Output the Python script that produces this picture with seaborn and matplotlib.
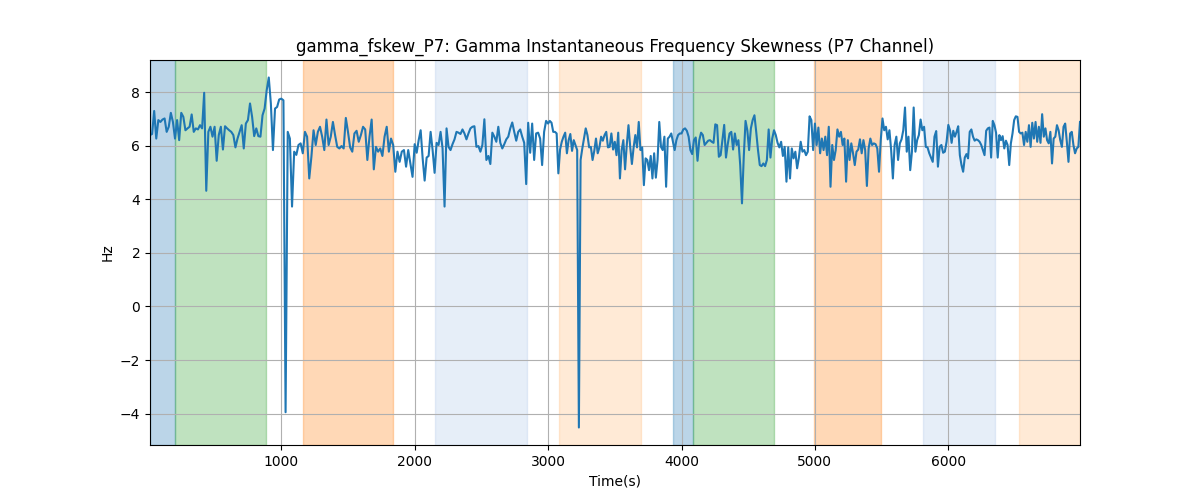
import numpy as np
import pandas as pd
import matplotlib
matplotlib.use("Agg")
import matplotlib.pyplot as plt
import seaborn as sns

# valores, un tramo por cada 1000 s
seg_0 = [6.40, 6.44, 7.30, 6.27, 6.96, 6.89, 6.98, 7.02, 6.52, 6.71,
         7.23, 6.89, 6.27, 6.96, 6.21, 7.23, 7.08, 6.58, 6.65, 6.71,
         7.17, 6.52, 6.65, 6.61, 6.77, 6.65, 7.98, 4.32, 6.52, 6.71,
         6.34, 6.71, 5.44, 6.40, 6.71, 5.86, 6.73, 6.65, 6.58, 6.52,
         6.40, 5.94, 6.27, 6.52, 6.77, 5.90, 6.83, 6.96, 7.58, 7.08,
         6.36, 6.65, 6.36, 6.34, 7.14, 7.39, 8.07, 8.55, 7.58, 5.84,
         7.39, 7.45, 7.73]
seg_1 = [7.76, 7.70, -3.95, 6.52, 6.27, 3.73, 5.78, 5.66, 6.03, 6.09,
         5.72, 6.52, 6.34, 4.78, 5.59, 6.58, 6.03, 6.52, 6.71, 6.34,
         5.84, 6.98, 6.03, 6.34, 6.89, 6.40, 5.96, 5.90, 5.99, 5.90,
         7.04, 6.52, 5.94, 5.78, 6.46, 6.56, 6.15, 6.40, 6.71, 6.61,
         5.47, 6.34, 6.98, 5.12, 5.96, 5.78, 5.90, 5.62, 6.34, 6.71,
         5.78, 6.27, 6.03, 5.03, 5.78, 5.40, 5.78, 5.84, 5.22, 5.84,
         5.34, 4.84]
seg_2 = [6.06, 5.74, 6.21, 6.58, 5.53, 4.70, 5.56, 5.62, 6.52, 5.84,
         4.99, 6.11, 6.03, 6.52, 5.90, 3.73, 6.65, 5.96, 5.84, 6.06,
         6.24, 6.52, 6.49, 6.44, 6.61, 6.46, 6.24, 6.46, 6.65, 6.71,
         6.73, 5.96, 5.99, 5.78, 6.03, 6.99, 5.47, 5.62, 5.32, 6.49,
         6.34, 6.15, 6.71, 6.11, 5.90, 6.06, 6.24, 6.34, 6.65, 6.87,
         6.52, 6.19, 6.52, 6.61, 6.34, 6.11, 4.57, 6.86, 5.74, 6.83,
         5.47, 6.46, 6.49, 6.27, 5.28, 6.52, 6.93]
seg_3 = [6.83, 6.93, 6.86, 6.52, 6.52, 6.46, 4.97, 5.86, 6.15, 6.34,
         6.49, 5.72, 6.21, 6.44, 5.81, 6.21, 6.02, 5.84, -4.52, 5.47,
         5.90, 6.27, 6.65, 6.40, 5.94, 5.96, 5.47, 5.81, 6.27, 5.72,
         5.94, 6.34, 6.19, 6.40, 6.52, 5.94, 5.96, 6.46, 5.86, 6.15,
         5.65, 6.49, 4.78, 5.84, 6.21, 5.12, 6.03, 6.77, 5.96, 5.32,
         5.94, 6.40, 5.94, 6.89, 5.84, 5.94, 4.53, 5.53, 5.47, 5.09,
         5.62, 4.78, 5.72, 4.81, 5.47, 6.89, 5.96, 5.84, 6.34, 4.47,
         6.27, 6.34, 6.46, 6.15, 5.84, 6.21, 6.40, 6.46]
seg_4 = [6.46, 6.61, 6.65, 6.56, 6.34, 5.84, 5.69, 6.21, 6.31, 5.44,
         6.21, 6.49, 6.40, 6.03, 6.11, 6.19, 6.21, 6.15, 6.11, 6.80,
         6.77, 5.59, 5.65, 6.21, 6.78, 5.56, 6.06, 6.46, 6.52, 5.86,
         6.46, 6.03, 6.21, 5.28, 3.85, 5.59, 6.93, 6.58, 5.84, 6.65,
         6.96, 7.14, 6.52, 5.84, 5.28, 5.24, 5.34, 5.24, 5.47, 6.61,
         5.56, 6.27, 6.58, 6.40, 6.11, 5.94, 6.15, 5.62, 5.96, 4.66,
         5.94, 4.78, 5.90, 5.53, 5.78, 5.16, 5.56, 6.15, 5.78, 5.84,
         5.65, 5.78, 7.10, 6.96, 5.84]
seg_5 = [6.83, 6.03, 6.68, 5.72, 6.27, 5.84, 6.34, 5.65, 6.71, 4.47,
         6.03, 5.47, 5.84, 6.61, 6.34, 6.52, 6.03, 6.27, 4.66, 6.21,
         5.47, 6.09, 5.72, 5.28, 5.78, 5.86, 6.24, 5.72, 6.21, 5.84,
         4.50, 5.90, 6.27, 6.03, 6.09, 6.06, 5.90, 5.03, 6.21, 7.02,
         6.58, 6.71, 6.24, 6.58, 5.84, 4.78, 6.03, 6.34, 5.47, 6.09,
         6.24, 6.58, 7.43, 5.78, 6.34, 5.09, 5.78, 7.43, 5.78, 6.21,
         6.40, 6.98, 6.58, 6.71, 5.96, 5.94, 5.72, 5.56, 5.40, 6.34,
         6.55, 5.22, 5.96, 6.03, 5.74, 5.78, 6.15]
seg_6 = [6.78, 6.58, 6.11, 6.56, 6.34, 6.52, 6.73, 5.65, 5.28, 5.03,
         5.56, 5.69, 5.53, 6.52, 6.61, 6.34, 6.19, 6.24, 6.21, 6.15,
         6.03, 5.84, 5.65, 6.56, 6.65, 6.68, 5.56, 6.93, 6.77, 6.49,
         5.56, 6.40, 6.21, 6.36, 5.90, 6.19, 6.03, 5.28, 6.09, 6.46,
         6.96, 7.10, 7.08, 6.52, 6.46, 6.49, 6.03, 6.52, 6.15, 6.77,
         5.96, 6.86, 6.27, 6.89, 6.15, 6.71, 6.11, 7.18, 6.34, 6.65,
         6.21, 6.09, 6.52, 5.34, 6.27, 6.34, 6.77, 6.58, 6.21, 5.96,
         6.71, 6.83, 6.15, 5.40, 6.46, 6.52, 6.03, 5.72, 5.90, 5.96,
         6.89]

segments = [seg_0, seg_1, seg_2, seg_3, seg_4, seg_5, seg_6]
seg_edges = [16, 1000, 2000, 3000, 4000, 5000, 6000, 6987]

# bandas de fondo: (inicio, fin, color)
band_start = [16, 203, 1163, 2152, 3082, 3936, 4088, 4993, 5813, 6530]
band_end = [203, 885, 1835, 2840, 3694, 4088, 4691, 5493, 6348, 6987]
band_color = ["#1f77b4", "#2ca02c", "#ff7f0e", "#aec7e8", "#ffbb78",
              "#1f77b4", "#2ca02c", "#ff7f0e", "#aec7e8", "#ffbb78"]

times = []
for i, seg in enumerate(segments):
    last = i == len(segments) - 1
    times.append(np.linspace(seg_edges[i], seg_edges[i + 1], len(seg), endpoint=last))
df = pd.DataFrame({"time": np.concatenate(times),
                   "value": np.concatenate([np.array(s) for s in segments])})

fig, ax = plt.subplots(figsize=(12, 5), dpi=100)
for s, e, c in zip(band_start, band_end, band_color):
    ax.axvspan(s, e, color=c, alpha=0.3)

sns.lineplot(data=df, x="time", y="value", ax=ax, color="#1f77b4", linewidth=1.5)
ax.set_xlim(df["time"].min(), df["time"].max())
ax.grid(True)
ax.set_title("gamma_fskew_P7: Gamma Instantaneous Frequency Skewness (P7 Channel)")
ax.set_xlabel("Time(s)")
ax.set_ylabel("Hz")

plt.savefig("out.png")
plt.close()
